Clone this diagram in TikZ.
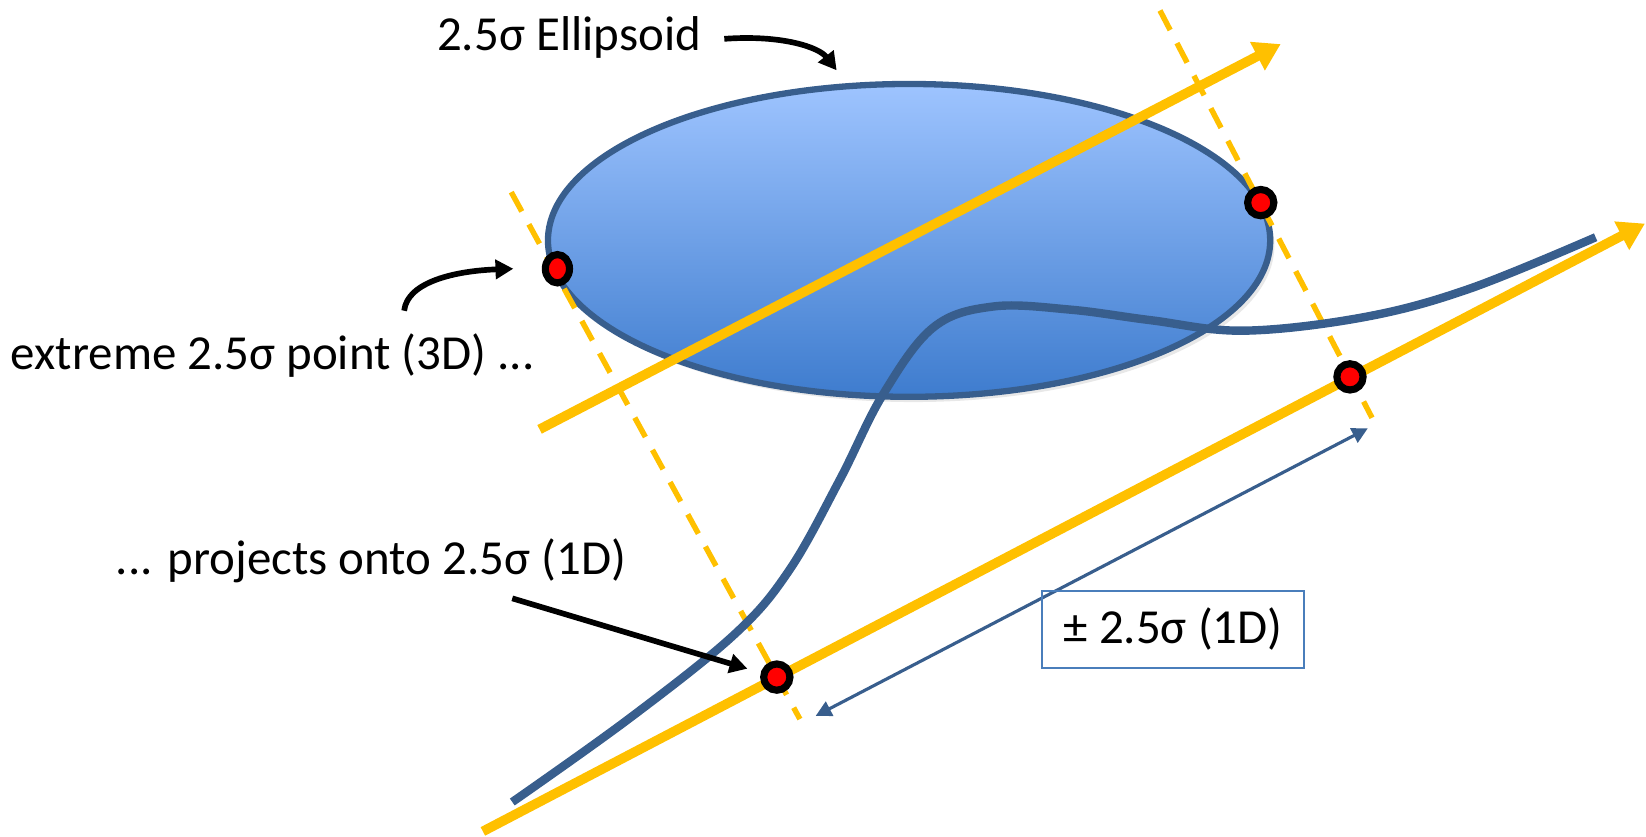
\documentclass[tikz,border=0pt]{standalone}
\usepackage{fontspec}
\setmainfont{Carlito}
\usetikzlibrary{arrows.meta,shadows,shapes.geometric}
\definecolor{gold}{RGB}{255,192,0}
\definecolor{curveblue}{RGB}{56,94,141}
\definecolor{boxblue}{RGB}{74,126,187}
\definecolor{elltop}{RGB}{158,196,255}
\definecolor{ellbot}{RGB}{62,124,206}
\begin{document}
\begin{tikzpicture}[x=0.5pt,y=-0.5pt,
  lbl/.style={font=\fontsize{23.3}{28}\selectfont, inner sep=0pt},
  axisarrow/.style={draw=gold, line width=4.6pt, -{Triangle[length=12.5pt,width=14.5pt]}},
  projline/.style={draw=gold, line width=2.6pt, dash pattern=on 10.5pt off 7pt},
  pointer/.style={draw=black, line width=2.7pt, -{Triangle[length=8.5pt,width=9pt]}},
  reddot/.style={ellipse, draw=black, fill=red, line width=3.4pt, minimum width=12.5pt, minimum height=12.5pt, inner sep=0pt},
  spanarrow/.style={draw=curveblue, line width=1.5pt, {Triangle[length=7.5pt,width=7.5pt]}-{Triangle[length=7.5pt,width=7.5pt]}},
  boxlbl/.style={lbl, draw=boxblue, line width=0.9pt, minimum width=124.5pt, minimum height=36.5pt}
]
\useasboundingbox (0,0) rectangle (1568,797);

% ellipsoid
\path[draw=curveblue, line width=3pt, top color=elltop, bottom color=ellbot,
      drop shadow={opacity=0.18, shadow xshift=2pt, shadow yshift=-2.5pt}]
  (866,229) ellipse [x radius=344, y radius=149];

% coordinates
\coordinate (ua0) at (514,409);
\coordinate (ua1) at (1220,42);
\coordinate (la0) at (460,792);
\coordinate (la1) at (1567,213);
\coordinate (dl0) at (487,183);
\coordinate (dl1) at (762,685);
\coordinate (dr0) at (1105,10);
\coordinate (dr1) at (1307,398);
\coordinate (sa0) at (777,682);
\coordinate (sa1) at (1303,408);

% projection lines
\draw[projline] (dl0) -- (dl1);
\draw[projline] (dr0) -- (dr1);

% axes
\draw[axisarrow] (ua0) -- (ua1);
\draw[axisarrow] (la0) -- (la1);

% curve
\draw[curveblue, line width=4pt] plot[smooth, tension=0.6] coordinates
  {(488,764) (600,684) (700,604) (752,543) (800,457) (841,376)
   (889,312) (946,292) (1020,295) (1096,305) (1185,315) (1300,302) (1400,275) (1520,226)};

% span arrow
\draw[spanarrow] (sa0) -- (sa1);

% points
\node[reddot, minimum width=11.5pt, minimum height=13.5pt] (p1) at (531,256) {};
\node[reddot] (p2) at (1201,193) {};
\node[reddot] (p3) at (740,645) {};
\node[reddot] (p4) at (1286,359) {};

% labels
\node[lbl, anchor=base west] (t1) at (416,48) {2.5σ Ellipsoid};
\node[lbl, anchor=base west] (t2) at (10,352) {extreme 2.5σ point (3D) ...};
\node[lbl, anchor=base west] (t3) at (110,547) {... projects onto 2.5σ (1D)};
\node[boxlbl] (t4) at (1117.5,599.5) {± 2.5σ (1D)};

% pointers
\coordinate (a1s) at (690,37);
\coordinate (a1e) at (797,67);
\coordinate (a2s) at (385,296);
\coordinate (a2e) at (489,256);
\coordinate (a3s) at (488,570);
\coordinate (a3e) at (712,637);
\draw[pointer] (a1s) .. controls (745,33) and (780,45) .. (a1e);
\draw[pointer] (a2s) .. controls (388,268) and (435,258) .. (a2e);
\draw[pointer] (a3s) -- (a3e);
\end{tikzpicture}
\end{document}
